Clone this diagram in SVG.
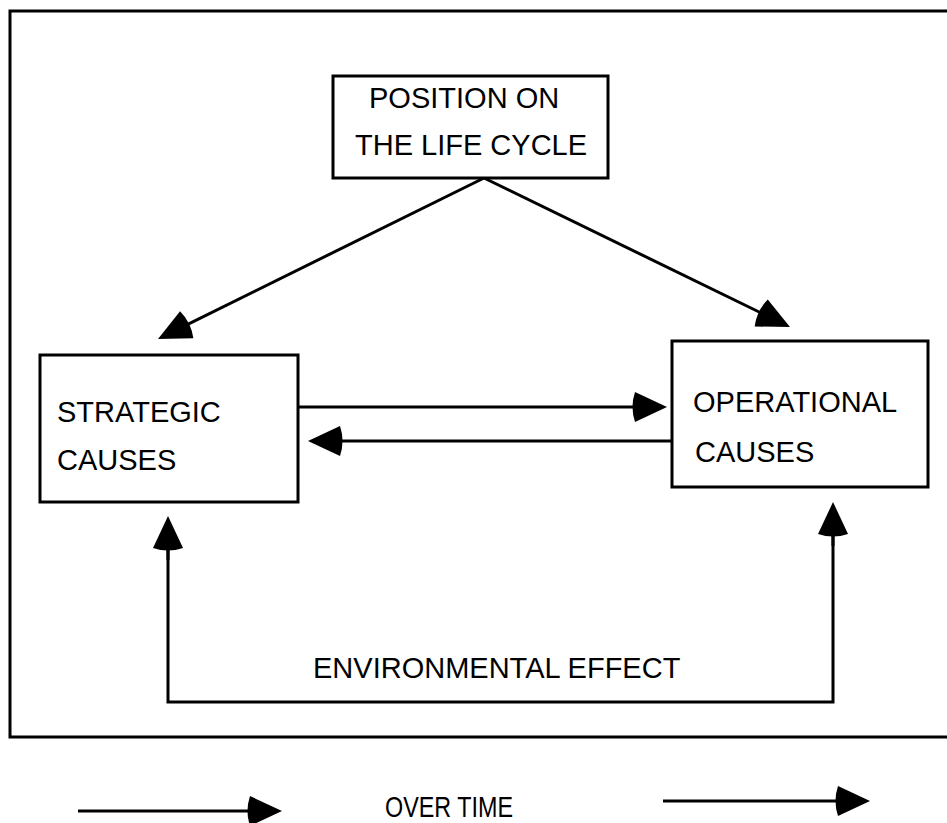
<svg xmlns="http://www.w3.org/2000/svg" width="947" height="823" viewBox="0 0 947 823">
  <style>
    .box { fill: #ffffff; stroke: #000000; stroke-width: 3; }
    .frame { fill: none; stroke: #000000; stroke-width: 3; }
    .wire { fill: none; stroke: #000000; stroke-width: 3; }
    .label { font-family: "Liberation Sans", Arial, sans-serif; font-size: 29px; fill: #000000; }
  </style>
  <defs>
    <!-- solid head, base placed at the line end, tip 32px ahead -->
    <marker id="head" markerUnits="userSpaceOnUse" viewBox="-6 -16 40 32" refX="0" refY="0" markerWidth="40" markerHeight="32" orient="auto" overflow="visible">
      <path d="M32,0 L0,-15 Q-5,0 0,15 Z" fill="#000000"/>
    </marker>
  </defs>

  <rect width="947" height="823" fill="#ffffff"/>

  <!-- outer frame, open on the right -->
  <path class="frame" d="M950,11 L10,11 L10,737 L950,737"/>

  <g id="connectors">
    <line class="wire" x1="484" y1="178" x2="186.7" y2="324.8" marker-end="url(#head)"/>
    <line class="wire" x1="484" y1="178" x2="761.2" y2="313" marker-end="url(#head)"/>
    <line class="wire" x1="297" y1="407" x2="635" y2="407" marker-end="url(#head)"/>
    <line class="wire" x1="672" y1="441" x2="340" y2="441" marker-end="url(#head)"/>
    <polyline class="wire" points="168,548 168,702 833,702 833,534"/>
    <line class="wire" x1="168" y1="560" x2="168" y2="548" marker-end="url(#head)"/>
    <line class="wire" x1="833" y1="546" x2="833" y2="534" marker-end="url(#head)"/>
    <line class="wire" x1="78" y1="811" x2="250" y2="811" marker-end="url(#head)"/>
    <line class="wire" x1="663" y1="801" x2="838" y2="801" marker-end="url(#head)"/>
  </g>

  <g id="life-cycle">
    <rect class="box" x="333" y="76" width="275" height="102"/>
    <text class="label" x="369" y="108">POSITION ON</text>
    <text class="label" x="355" y="155">THE LIFE CYCLE</text>
  </g>

  <g id="strategic">
    <rect class="box" x="40" y="355" width="258" height="147"/>
    <text class="label" x="57" y="422">STRATEGIC</text>
    <text class="label" x="57" y="470">CAUSES</text>
  </g>

  <g id="operational">
    <rect class="box" x="672" y="341" width="256" height="146"/>
    <text class="label" x="693" y="412">OPERATIONAL</text>
    <text class="label" x="695" y="462">CAUSES</text>
  </g>

  <g id="environment">
    <text class="label" x="313" y="678" font-size="27">ENVIRONMENTAL EFFECT</text>
  </g>

  <g id="over-time">
    <text class="label" x="385" y="817" font-size="27" textLength="128" lengthAdjust="spacingAndGlyphs">OVER TIME</text>
  </g>
</svg>
